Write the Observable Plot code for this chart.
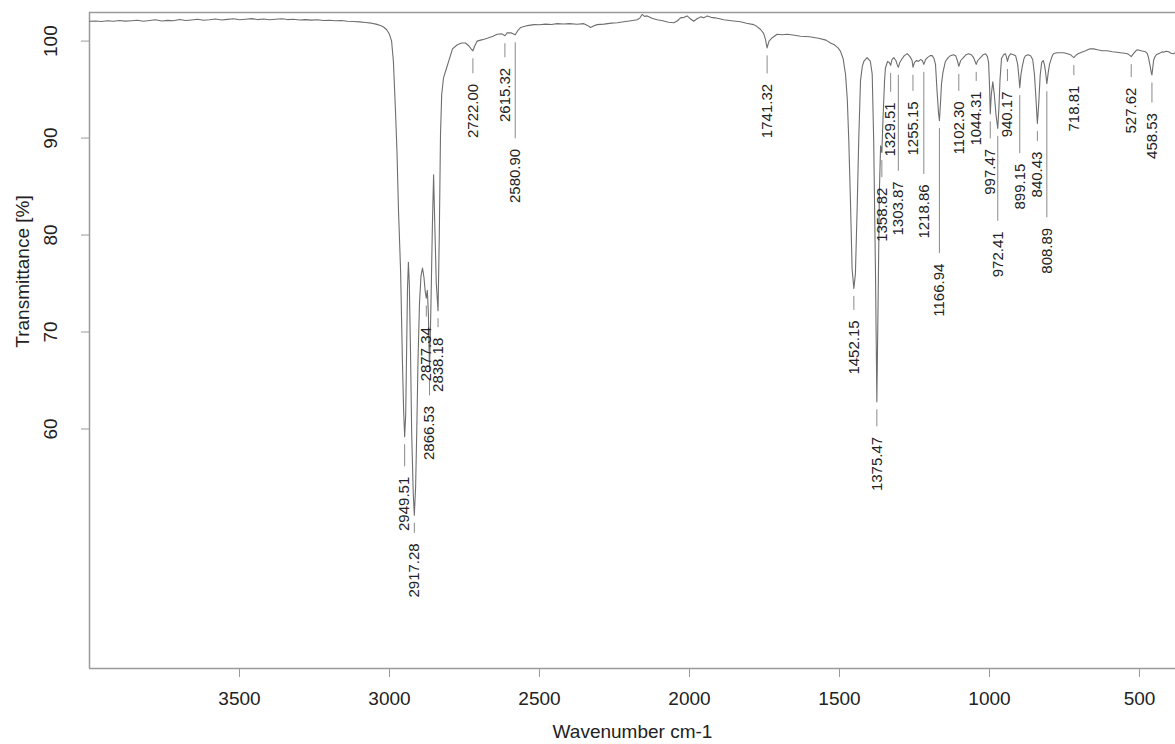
<!DOCTYPE html>
<html>
<head>
<meta charset="utf-8">
<script src="https://cdn.jsdelivr.net/npm/d3@7"></script>
<script src="https://cdn.jsdelivr.net/npm/@observablehq/plot@0.6"></script>
<style>
  html, body { margin: 0; padding: 0; background: #fff; }
  #chart svg { display: block; }
</style>
</head>
<body>
<div id="chart"></div>
<script>
// IR spectrum: wavenumber (cm-1) and transmittance (%)
const wavenumber = [
  4000, 3980, 3960, 3940, 3920, 3900, 3880, 3860, 3840, 3820, 3800, 3780, 3760, 3740, 3720, 3700,
  3680, 3660, 3640, 3620, 3600, 3580, 3560, 3540, 3520, 3500, 3480, 3460, 3440, 3420, 3400, 3380,
  3360, 3340, 3320, 3300, 3280, 3260, 3240, 3220, 3200, 3180, 3160, 3140, 3120, 3100, 3080, 3060,
  3045, 3030, 3020, 3010, 3000, 2993, 2987, 2980, 2975, 2970, 2963, 2957, 2953, 2949.51, 2946, 2943,
  2940, 2937, 2934, 2930, 2926, 2921, 2917.28, 2913, 2909, 2905, 2900, 2895, 2890, 2885, 2881, 2877.34,
  2874, 2870.5, 2866.53, 2862, 2857, 2853, 2849, 2844, 2838.18, 2834, 2830, 2826, 2820, 2810, 2800, 2790,
  2775, 2760, 2747, 2735, 2728, 2722.00, 2716, 2708, 2690, 2674, 2655, 2641, 2625, 2615.32, 2608, 2595,
  2580.90, 2572, 2563, 2540, 2519, 2500, 2480, 2460, 2441, 2420, 2400, 2375, 2352, 2340, 2330, 2320,
  2308, 2285, 2260, 2240, 2219, 2195, 2174, 2165, 2158, 2150, 2141, 2125, 2108, 2090, 2070, 2052,
  2040, 2030, 2018, 2008, 1997, 1986, 1975, 1963, 1952, 1941, 1928, 1915, 1900, 1886, 1860, 1830,
  1810, 1786, 1775, 1763, 1753, 1747, 1741.32, 1735, 1724, 1708, 1690, 1674, 1650, 1630, 1600, 1570,
  1545, 1530, 1519, 1505, 1497, 1488, 1480, 1474, 1469, 1463, 1458, 1452.15, 1447, 1441, 1436, 1430,
  1424, 1419, 1408, 1397, 1391, 1386, 1380, 1375.47, 1371, 1367, 1363, 1358.82, 1355, 1350, 1347, 1340,
  1334, 1329.51, 1325, 1319, 1312, 1308, 1303.87, 1299, 1293, 1284, 1274, 1265, 1258, 1255.15, 1250, 1243,
  1237, 1230, 1224, 1218.86, 1213, 1207, 1198, 1191, 1185, 1180, 1175, 1170, 1166.94, 1163, 1160, 1155,
  1147, 1138, 1130, 1120, 1113, 1107, 1102.30, 1096, 1087, 1078, 1070, 1061, 1053, 1048, 1044.31, 1039,
  1030, 1021, 1013, 1007, 1003, 1000, 997.47, 994, 989, 984, 978, 972.41, 968, 965, 960, 953,
  947, 943, 940.17, 936, 930, 920, 913, 906, 902, 899.15, 895, 890, 885, 880, 871, 863,
  856, 850, 845, 840.43, 836, 831, 826, 821, 817, 813, 808.89, 804, 800, 793, 787, 775,
  763, 752, 740, 730, 723, 718.81, 713, 705, 697, 680, 665, 653, 640, 625, 607, 590,
  575, 563, 550, 540, 533, 527.62, 520, 512, 507, 495, 487, 480, 474, 470, 465, 461,
  458.53, 456, 453, 450, 444, 437, 430, 424, 420, 412, 403, 395, 387, 380
];
const transmittance = [
  102.05, 102.08, 102.02, 102.1, 102.04, 102.12, 102.06, 102.1, 102.15, 102.05, 102.12, 102.2, 102.08, 102.14, 102.1, 102.22,
  102.12, 102.18, 102.25, 102.15, 102.2, 102.28, 102.18, 102.24, 102.3, 102.2, 102.26, 102.32, 102.22, 102.28, 102.2, 102.26,
  102.3, 102.22, 102.25, 102.18, 102.22, 102.16, 102.2, 102.12, 102.15, 102.1, 102.12, 102.05, 102.02, 101.98, 101.92, 101.85,
  101.75, 101.6, 101.45, 101.2, 100.7, 100.0, 97.9, 92.8, 88.5, 82.5, 76.3, 67.1, 62.0, 59.2, 61.5, 68.0,
  74.5, 77.2, 75.0, 68.0, 59.5, 53.5, 51.1, 54.0, 60.0, 67.0, 73.0, 75.8, 76.6, 75.6, 74.2, 73.5,
  74.3, 72.0, 66.0, 72.5, 81.0, 86.2, 81.0, 75.0, 72.2, 80.0, 90.4, 94.5, 96.2, 97.2, 98.2, 99.2,
  99.6, 99.8, 99.8, 99.5, 99.2, 99.0, 99.5, 100.0, 100.15, 100.3, 100.5, 100.7, 100.75, 100.55, 100.85, 100.85,
  100.65, 101.1, 101.4, 101.6, 101.7, 101.68, 101.75, 101.72, 101.8, 101.76, 101.8, 101.74, 101.8, 101.62, 101.4, 101.55,
  101.7, 101.75, 101.85, 101.9, 102.0, 102.1, 102.2, 102.4, 102.75, 102.55, 102.6, 102.35, 102.2, 102.1, 101.95, 101.9,
  102.1, 102.4, 102.45, 102.6, 102.3, 102.05, 102.3, 102.5, 102.4, 102.6, 102.45, 102.4, 102.3, 102.2, 102.1, 102.0,
  101.85, 101.7, 101.5, 101.2, 100.8, 100.2, 99.3, 100.0, 100.35, 100.7, 100.65, 100.7, 100.6, 100.5, 100.45, 100.3,
  100.1, 99.8, 99.66, 99.3, 98.97, 98.2, 96.6, 94.0, 89.7, 82.9, 76.5, 74.5, 76.0, 82.9, 89.7, 95.9,
  97.4, 97.9, 98.3, 97.9, 96.6, 89.7, 76.0, 62.8, 74.0, 84.6, 89.2, 88.5, 92.0, 95.8, 97.2, 97.9,
  97.8, 97.5, 98.1, 98.3, 98.0, 97.6, 97.3, 97.8, 98.1, 98.5, 98.7, 98.4, 98.0, 97.3, 97.8, 98.0,
  97.9, 98.1, 98.0, 97.6, 98.1, 98.3, 98.5, 98.5, 98.2, 97.6, 94.9, 92.6, 91.8, 93.8, 95.6, 96.8,
  97.9, 98.3, 98.5, 98.6, 98.5, 98.0, 97.4, 98.0, 98.3, 98.6, 98.7, 98.6, 98.3, 97.9, 97.6, 98.0,
  98.3, 98.6, 98.7, 98.4, 97.8, 95.5, 92.5, 94.5, 95.8, 94.5, 92.3, 91.0, 93.5, 96.0, 98.2, 98.6,
  98.7, 98.3, 97.9, 98.4, 98.7, 98.6, 98.5, 97.6, 96.3, 95.2, 96.6, 97.5, 98.2, 98.5, 98.6, 98.5,
  98.1, 96.5, 94.0, 91.5, 93.5, 96.5, 97.8, 98.0, 97.6, 96.8, 95.6, 96.8, 97.6, 98.3, 98.7, 98.8,
  98.8, 98.8, 98.7, 98.6, 98.4, 98.3, 98.5, 98.7, 98.8, 99.0, 99.2, 99.2, 99.1, 99.0, 99.0, 98.9,
  98.85, 98.8, 98.75, 98.7, 98.55, 98.4, 98.7, 99.0, 99.1, 99.0, 98.95, 98.9, 98.7, 98.3, 97.5, 96.8,
  96.5, 97.2, 98.0, 98.3, 98.6, 98.7, 98.8, 98.9, 98.85, 98.95, 98.9, 98.75, 98.7, 98.8
];

// Picked band positions and their transmittance minima
const peakWavenumber = [
  2949.51, 2917.28, 2877.34, 2866.53, 2838.18, 2722.00, 2615.32, 2580.90, 1741.32, 1452.15,
  1375.47, 1358.82, 1329.51, 1303.87, 1255.15, 1218.86, 1166.94, 1102.30, 1044.31, 997.47,
  972.41, 940.17, 899.15, 840.43, 808.89, 718.81, 527.62, 458.53
];
const peakTransmittance = [
  59.2, 51.1, 73.5, 66.0, 72.2, 99.0, 100.55, 100.65, 99.3, 74.5,
  62.8, 88.5, 97.5, 97.3, 97.3, 97.6, 91.8, 97.4, 97.6, 92.5,
  91.0, 97.9, 95.2, 91.5, 95.6, 98.3, 98.4, 96.5
];
// Distance (px) from each band minimum down to the end of its label
const labelDrop = [
  40, 28, 29, 35, 27, 33, 32, 114, 36, 32,
  35, 35, 37, 114, 34, 120, 143, 35, 27, 35,
  103, 30, 76, 28, 144, 28, 31, 38
];

const xTicks = [3500, 3000, 2500, 2000, 1500, 1000, 500];
const yTicks = [60, 70, 80, 90, 100];

const xDomain = [4000, 380];
const yDomain = [35.3, 102.95];
const W = 1175, H = 744;
const mL = 89, mR = 0, mT = 12, mB = 76;
const pxPerUnit = (H - mT - mB) / (yDomain[1] - yDomain[0]);

const spectrum = wavenumber.map((w, i) => ({w, t: transmittance[i]}));
const peaks = peakWavenumber.map((w, i) => ({
  w,
  t: peakTransmittance[i],
  label: w.toFixed(2),
  end: peakTransmittance[i] - labelDrop[i] / pxPerUnit
}));

const frameColor = "#9a9a9a";
const inkColor = "#222";

const chart = Plot.plot({
  width: W,
  height: H,
  marginLeft: mL,
  marginRight: mR,
  marginTop: mT,
  marginBottom: mB,
  style: {fontFamily: "'Liberation Sans', Arial, Helvetica, sans-serif", background: "#fff"},
  x: {domain: xDomain},
  y: {domain: yDomain},
  marks: [
    // plot frame (left, top, bottom)
    Plot.ruleX([xDomain[0]], {stroke: frameColor, strokeWidth: 1.5}),
    Plot.ruleY(yDomain, {stroke: frameColor, strokeWidth: 1.5}),
    // axes
    Plot.axisX({ticks: xTicks, tickSize: 9, tickPadding: 14, tickFormat: d => String(d), fontSize: 19, stroke: frameColor, fill: inkColor, label: null}),
    Plot.axisY({ticks: yTicks, tickSize: 8, tickFormat: () => "", stroke: frameColor, label: null}),
    Plot.text(yTicks, {y: d => d, text: d => String(d), frameAnchor: "left", dx: -39, rotate: -90, textAnchor: "middle", lineAnchor: "middle", fontSize: 19, fill: inkColor}),
    Plot.text(["Wavenumber cm-1"], {frameAnchor: "bottom", dy: 63, textAnchor: "middle", lineAnchor: "middle", fontSize: 19, fill: inkColor}),
    Plot.text(["Transmittance [%]"], {frameAnchor: "left", dx: -67, dy: -69, rotate: -90, textAnchor: "middle", lineAnchor: "middle", fontSize: 19, fill: inkColor}),
    // spectrum
    Plot.line(spectrum, {x: "w", y: "t", stroke: "#6e6e6e", strokeWidth: 1.1}),
    // band labels with leader lines
    Plot.ruleX(peaks, {x: "w", y1: d => d.t - 8 / pxPerUnit, y2: d => d.end + 10 / pxPerUnit, stroke: "#8a8a8a", strokeWidth: 1}),
    Plot.text(peaks, {x: "w", y: "end", text: "label", rotate: -90, textAnchor: "end", lineAnchor: "middle", fontSize: 15, fill: inkColor})
  ]
});

document.getElementById("chart").appendChild(chart);
</script>
</body>
</html>
